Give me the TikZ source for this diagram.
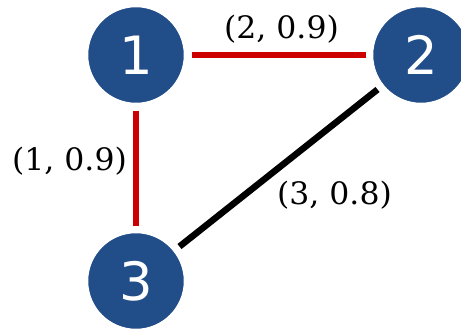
\documentclass[tikz,border=0pt]{standalone}
\usepackage{fontspec}
\newfontfamily\numfont{DejaVu Sans}
\newfontfamily\labfont{DejaVu Serif}
\definecolor{nodeblue}{HTML}{214D89}
\definecolor{edgered}{HTML}{CC0000}
\tikzset{
  vert/.style={circle, fill=nodeblue, draw=white, line width=1.5bp, minimum size=97bp, inner sep=0pt, outer sep=0pt, text=white, font=\numfont\fontsize{53}{60}\selectfont},
  redge/.style={edgered, line width=6bp, shorten <=7bp, shorten >=7bp},
  bedge/.style={black, line width=6.5bp, shorten <=7bp, shorten >=7bp},
  elabel/.style={inner sep=0pt, font=\labfont\fontsize{31}{36}\selectfont}
}
\begin{document}
\begin{tikzpicture}[x=1bp,y=-1bp]
\useasboundingbox (0,0) rectangle (461,328);
\clip (0,0) rectangle (461,328);
\node[vert] (n1) at (136,55) {1};
\node[vert] (n2) at (421,55) {2};
\node[vert] (n3) at (136,281) {3};
\draw[redge] (n1) -- (n2);
\draw[redge] (n1) -- (n3);
\draw[bedge] (n2) -- (n3);
\node[elabel] (l12) at (281.5,29) {\scalebox{1.02}[1]{(2, 0.9)}};
\node[elabel] (l13) at (69.5,161) {\scalebox{1.02}[1]{(1, 0.9)}};
\node[elabel] (l23) at (334.5,195) {\scalebox{1.02}[1]{(3, 0.8)}};
\end{tikzpicture}
\end{document}
